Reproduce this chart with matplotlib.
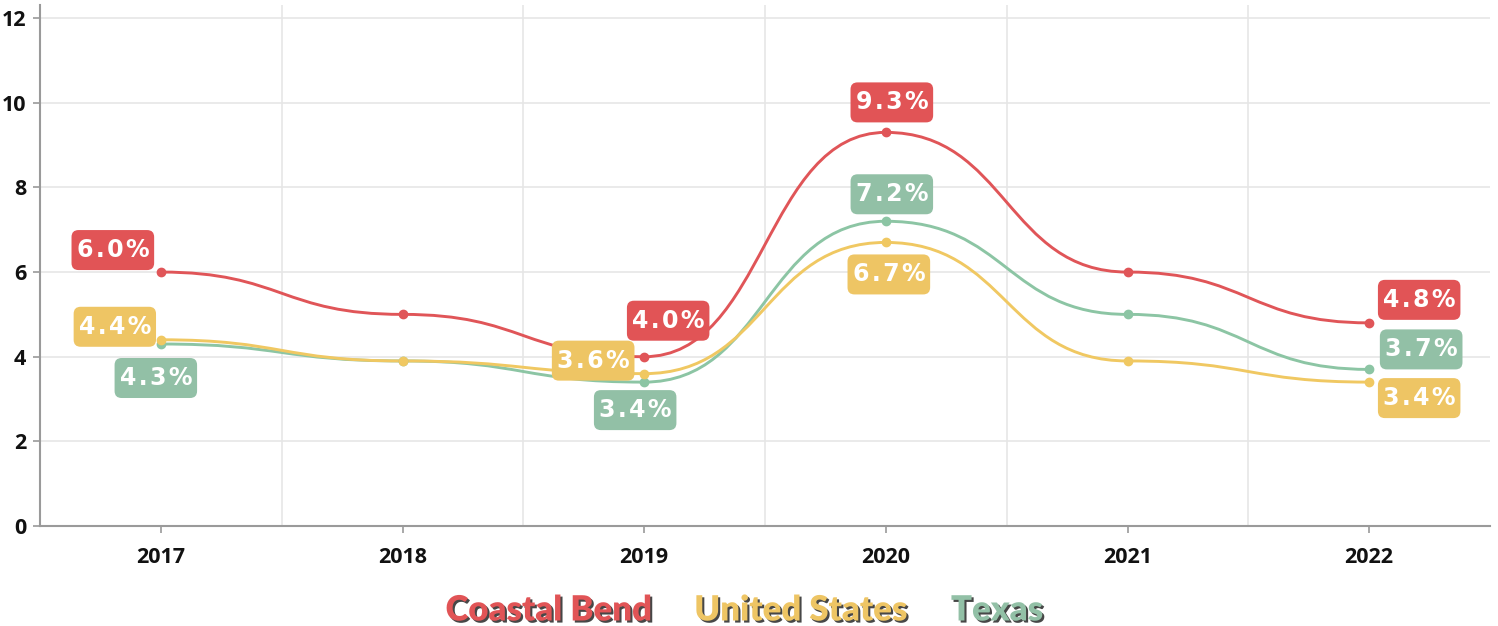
import numpy as np
import matplotlib
matplotlib.use("Agg")
from matplotlib import pyplot as plt
from matplotlib.path import Path
from matplotlib.patches import PathPatch, BoxStyle
import matplotlib.patheffects as pe

years = ["2017", "2018", "2019", "2020", "2021", "2022"]
coastal_bend = [6.0, 5.0, 4.0, 9.3, 6.0, 4.8]
united_states = [4.4, 3.9, 3.6, 6.7, 3.9, 3.4]
texas = [4.3, 3.9, 3.4, 7.2, 5.0, 3.7]
labelled_years = ["2017", "2019", "2020", "2022"]
series_names = ["Coastal Bend", "United States", "Texas"]

# styling
colors = {"Coastal Bend": "#E15456", "United States": "#EEC564", "Texas": "#92C0A6"}
line_colors = {"Coastal Bend": "#E05558", "United States": "#F0C862", "Texas": "#8CC5A4"}
# label offsets in pixels per labelled year
label_offsets = {
    "Coastal Bend": [(-48, 22), (24, 36), (6, 30), (50, 23)],
    "United States": [(-46, 13), (-51, 13), (3, -32), (50, -16)],
    "Texas": [(-5, -34), (-9, -28), (6, 27), (52, 20)],
}
HAIR = "\u200a"
PAD_X, PAD_Y, RADIUS = 5, 8, 7


def bump_path(xs, ys, k=0.5):
    # each segment leaves and enters its points horizontally
    verts = [(xs[0], ys[0])]
    codes = [Path.MOVETO]
    for i in range(1, len(xs)):
        dx = (xs[i] - xs[i - 1]) * k
        verts += [(xs[i - 1] + dx, ys[i - 1]), (xs[i] - dx, ys[i]), (xs[i], ys[i])]
        codes += [Path.CURVE4] * 3
    return Path(verts, codes)


def label_box(x0, y0, width, height, mutation_size):
    return BoxStyle.Round(pad=0, rounding_size=RADIUS)(
        x0 - PAD_X, y0 - PAD_Y, width + 2 * PAD_X, height + 2 * PAD_Y, 1)


fig = plt.figure(figsize=(14.98, 6.26), dpi=100)
ax = fig.add_axes([40 / 1498, 100 / 626, 1450 / 1498, 521 / 626])
x = np.arange(len(years))
ax.set_xlim(-0.5, 5.5)
ax.set_ylim(0, 12.31)

ax.set_yticks(range(0, 13, 2))
ax.set_xticks(x)
ax.set_xticklabels(years)
ax.set_xticks(np.arange(0.5, 5.5, 1), minor=True)
ax.grid(axis="y", color="#e6e6e6", lw=1.2)
ax.grid(axis="x", which="minor", color="#e6e6e6", lw=1.2)
ax.grid(axis="x", which="major", visible=False)
ax.tick_params(axis="x", which="minor", length=0)
ax.tick_params(axis="both", which="major", length=5, width=1.2, color="#999999",
               labelsize=15.5, pad=10)
ax.tick_params(axis="y", pad=5)
for lab in ax.get_xticklabels() + ax.get_yticklabels():
    lab.set_fontweight("bold")
    lab.set_family("Open Sans")
    lab.set_color("#111111")
for side in ["top", "right"]:
    ax.spines[side].set_visible(False)
for side in ["left", "bottom"]:
    ax.spines[side].set_color("#9a9a9a")
    ax.spines[side].set_linewidth(1.5)
ax.set_axisbelow(True)

data = {"Coastal Bend": coastal_bend, "United States": united_states, "Texas": texas}
for name in ["Texas", "United States", "Coastal Bend"]:
    vals = data[name]
    ax.add_patch(PathPatch(bump_path(x, vals), fill=False,
                           ec=line_colors[name], lw=2.1, zorder=3))
    ax.plot(x, vals, "o", color=line_colors[name], ms=6, zorder=4)

for name in series_names:
    vals = data[name]
    for yr, (dx, dy) in zip(labelled_years, label_offsets[name]):
        i = years.index(yr)
        txt = HAIR.join(f"{vals[i]:.1f}%")
        ax.annotate(txt, (i, vals[i]), xytext=(dx, dy),
                    textcoords="offset pixels", ha="center", va="center",
                    fontsize=17, color="white", fontweight="bold",
                    family="DejaVu Sans", zorder=6,
                    bbox=dict(boxstyle=label_box, fc=colors[name], ec="none"))

legend_x = [549, 801, 997]
for name, lx in zip(series_names, legend_x):
    fig.text(lx / 1498, 1 - 610 / 626, name, ha="center", va="center",
             fontsize=25, fontweight="heavy", family="Lato", color=colors[name],
             path_effects=[pe.withSimplePatchShadow(offset=(1.5, -1.5),
                                                    shadow_rgbFace="#333333", alpha=0.9)])

fig.savefig("out.png", dpi=100)
